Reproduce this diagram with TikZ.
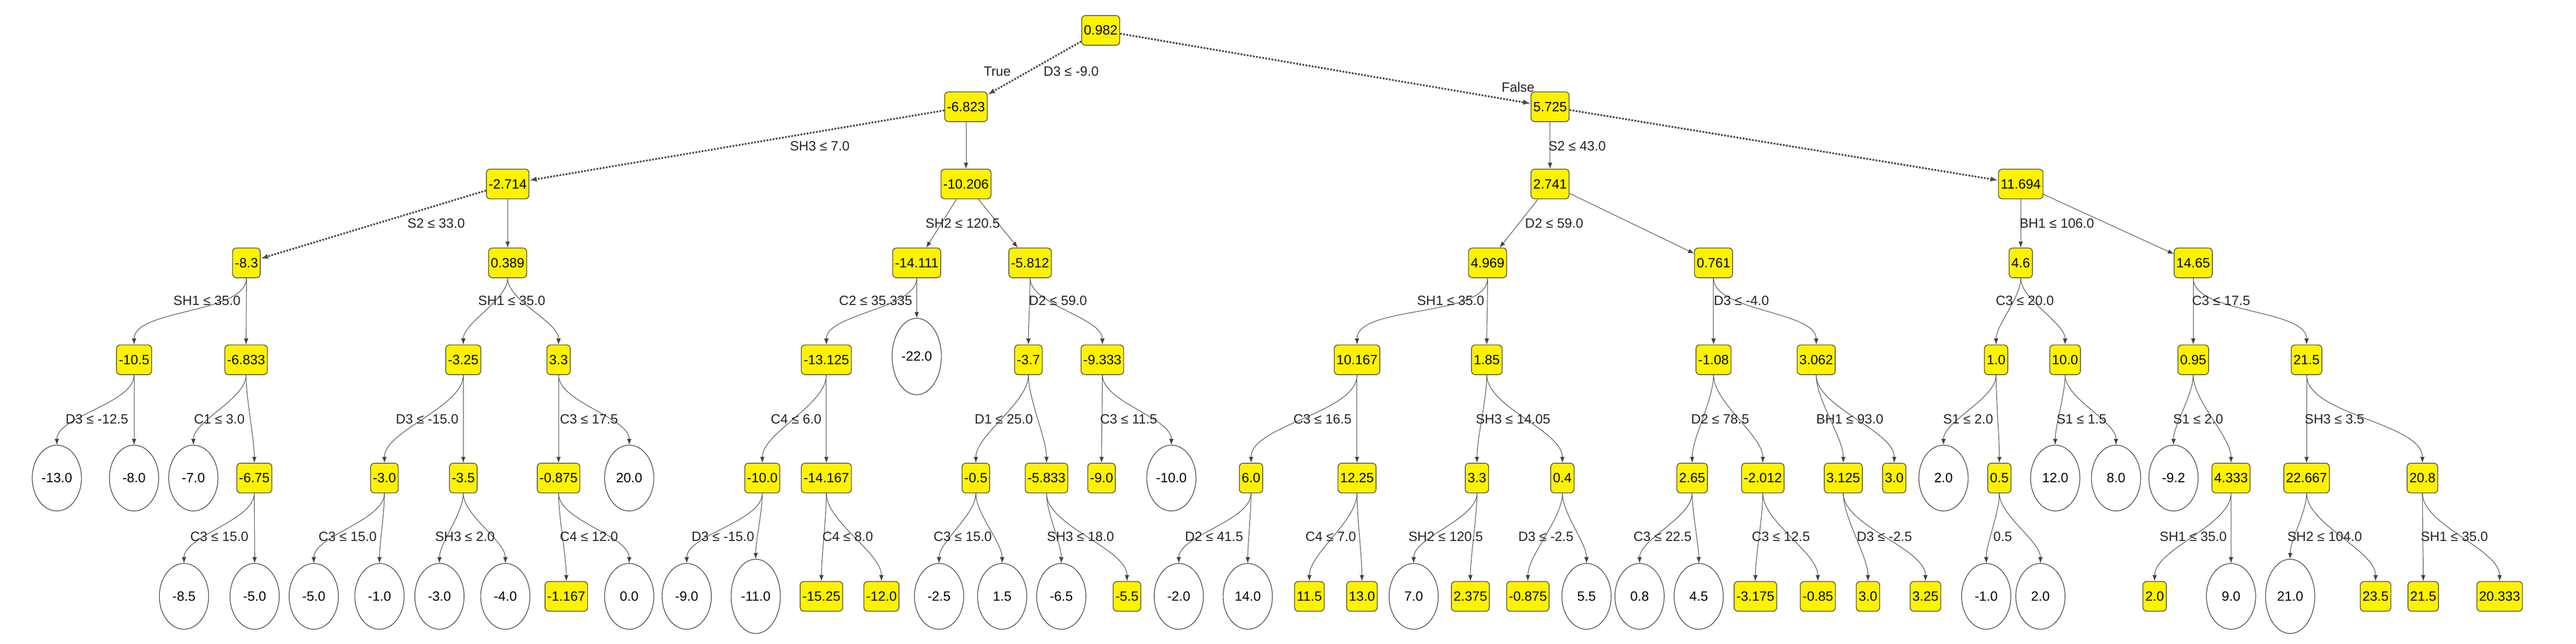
\documentclass[tikz,border=0pt]{standalone}
\usepackage{fontspec}
\setmainfont{Liberation Sans}
\usetikzlibrary{shapes.geometric,arrows.meta}
\newcommand\Yn[3]{\node[yn] (#1) at (#2) {#3};}
\newcommand\En[3]{\node[en] (#1) at (#2) {#3};}
\newcommand\Lb[2]{\node[lb] at (#1) {#2};}
\newcommand\Ed[2]{\draw[ed] (#1) to[out=-90,in=90,looseness=0.7] (#2);}
\newcommand\Es[2]{\draw[ed] (#1) -- (#2);}
\newcommand\Ep[2]{\draw[ep] (#1) -- (#2);}
\begin{document}
\begin{tikzpicture}[x={(0.03869cm,0)},y={(0,-0.03869cm)},
  every node/.style={font=\fontsize{9}{10}\selectfont},
  yn/.style={draw=gray!60!black,fill=yellow,rounded corners=2.5pt,minimum height=0.7cm,minimum width=0.55cm,inner sep=1.5pt,line width=0.5pt},
  en/.style={draw=black!80,ellipse,minimum width=1.16cm,minimum height=1.55cm,inner sep=0pt,line width=0.4pt},
  lb/.style={inner sep=1pt,text=black!85},
  ed/.style={draw=black!75,line width=0.35pt,-{Latex[length=4pt,width=3pt]}},
  ep/.style={draw=black!70,line width=1.2pt,dash pattern=on 1.2pt off 0.9pt,-{Latex[length=5pt,width=3.5pt]}}]
\useasboundingbox (0,0) rectangle (1568,392);
% level 0-3
\Yn{r}{670,18.5}{0.982}
\Yn{a}{588,65}{-6.823}
\Yn{b}{943.5,65}{5.725}
\Yn{aa}{309,112}{-2.714}
\Yn{ab}{588,112}{-10.206}
\Yn{ba}{943.5,112}{2.741}
\Yn{bb}{1230,112}{11.694}
\Yn{aaa}{150,160}{-8.3}
\Yn{aab}{309,160}{0.389}
\Yn{aba}{558,160}{-14.111}
\Yn{abb}{627,160}{-5.812}
\Yn{baa}{905.5,160}{4.969}
\Yn{bab}{1043,160}{0.761}
\Yn{bba}{1230,160}{4.6}
\Yn{bbb}{1335,160}{14.65}
% level 4
\Yn{c1}{81.6,219}{-10.5}
\Yn{c2}{149.8,219}{-6.833}
\Yn{c3}{282,219}{-3.25}
\Yn{c4}{340,219}{3.3}
\Yn{c5}{503,219}{-13.125}
\node[en,minimum height=1.8cm] (c6) at (558,217) {-22.0};
\Yn{c7}{626,219}{-3.7}
\Yn{c8}{671,219}{-9.333}
\Yn{c9}{826,219}{10.167}
\Yn{c10}{905,219}{1.85}
\Yn{c11}{1043,219}{-1.08}
\Yn{c12}{1105.5,219}{3.062}
\Yn{c13}{1215,219}{1.0}
\Yn{c14}{1257,219}{10.0}
\Yn{c15}{1335,219}{0.95}
\Yn{c16}{1404,219}{21.5}
% level 5
\En{d1}{34.6,291}{-13.0}
\En{d2}{81.6,291}{-8.0}
\En{d3}{117.7,291}{-7.0}
\Yn{d4}{154.8,291}{-6.75}
\Yn{d5}{234,291}{-3.0}
\Yn{d6}{282,291}{-3.5}
\Yn{d7}{340,291}{-0.875}
\En{d8}{383,291}{20.0}
\Yn{d9}{464,291}{-10.0}
\Yn{d10}{503,291}{-14.167}
\Yn{d11}{594,291}{-0.5}
\Yn{d12}{637,291}{-5.833}
\Yn{d13}{670.5,291}{-9.0}
\En{d14}{713,291}{-10.0}
\Yn{d15}{761.5,291}{6.0}
\Yn{d16}{826,291}{12.25}
\Yn{d17}{899,291}{3.3}
\Yn{d18}{951,291}{0.4}
\Yn{d19}{1030,291}{2.65}
\Yn{d20}{1073,291}{-2.012}
\Yn{d21}{1122,291}{3.125}
\Yn{d22}{1153,291}{3.0}
\En{d23}{1183,291}{2.0}
\Yn{d24}{1217,291}{0.5}
\En{d25}{1251,291}{12.0}
\En{d26}{1288,291}{8.0}
\En{d27}{1323,291}{-9.2}
\Yn{d28}{1358,291}{4.333}
\Yn{d29}{1404,291}{22.667}
\Yn{d30}{1474.5,291}{20.8}
% level 6
\En{e1}{112,363}{-8.5}
\En{e2}{155,363}{-5.0}
\En{e3}{191,363}{-5.0}
\En{e4}{231,363}{-1.0}
\En{e5}{267.5,363}{-3.0}
\En{e6}{307.6,363}{-4.0}
\Yn{e7}{344.7,363}{-1.167}
\En{e8}{383,363}{0.0}
\En{e9}{418,363}{-9.0}
\node[en,minimum height=1.75cm] (e10) at (460,363) {-11.0};
\Yn{e11}{500,363}{-15.25}
\Yn{e12}{536.5,363}{-12.0}
\En{e13}{571.6,363}{-2.5}
\En{e14}{610,363}{1.5}
\En{e15}{646,363}{-6.5}
\Yn{e16}{686,363}{-5.5}
\En{e17}{717.5,363}{-2.0}
\En{e18}{759.5,363}{14.0}
\Yn{e19}{797,363}{11.5}
\Yn{e20}{829,363}{13.0}
\En{e21}{860.5,363}{7.0}
\Yn{e22}{895,363}{2.375}
\Yn{e23}{930,363}{-0.875}
\En{e24}{965.7,363}{5.5}
\En{e25}{998,363}{0.8}
\En{e26}{1034,363}{4.5}
\Yn{e27}{1068.5,363}{-3.175}
\Yn{e28}{1106.5,363}{-0.85}
\Yn{e29}{1137,363}{3.0}
\Yn{e30}{1172,363}{3.25}
\En{e31}{1209,363}{-1.0}
\En{e32}{1242,363}{2.0}
\Yn{e33}{1311.5,363}{2.0}
\En{e34}{1358,363}{9.0}
\node[en,minimum height=1.75cm] (e35) at (1394,363) {21.0};
\Yn{e36}{1446,363}{23.5}
\Yn{e37}{1475,363}{21.5}
\Yn{e38}{1521.5,363}{20.333}
% edges
\Ep{r}{a}\Ep{r}{b}\Ep{a}{aa}\Es{a}{ab}\Es{b}{ba}\Ep{b}{bb}
\Ep{aa}{aaa}\Es{aa}{aab}\Es{ab}{aba}\Es{ab}{abb}\Es{ba}{baa}\Es{ba}{bab}\Es{bb}{bba}\Es{bb}{bbb}
\Ed{aaa}{c1}\Ed{aaa}{c2}\Ed{aab}{c3}\Ed{aab}{c4}\Ed{aba}{c5}\Ed{aba}{c6}\Ed{abb}{c7}\Ed{abb}{c8}
\Ed{baa}{c9}\Ed{baa}{c10}\Ed{bab}{c11}\Ed{bab}{c12}\Ed{bba}{c13}\Ed{bba}{c14}\Ed{bbb}{c15}\Ed{bbb}{c16}
\Ed{c1}{d1}\Ed{c1}{d2}\Ed{c2}{d3}\Ed{c2}{d4}\Ed{c3}{d5}\Ed{c3}{d6}\Ed{c4}{d7}\Ed{c4}{d8}
\Ed{c5}{d9}\Ed{c5}{d10}\Ed{c7}{d11}\Ed{c7}{d12}\Ed{c8}{d13}\Ed{c8}{d14}
\Ed{c9}{d15}\Ed{c9}{d16}\Ed{c10}{d17}\Ed{c10}{d18}\Ed{c11}{d19}\Ed{c11}{d20}\Ed{c12}{d21}\Ed{c12}{d22}
\Ed{c13}{d23}\Ed{c13}{d24}\Ed{c14}{d25}\Ed{c14}{d26}\Ed{c15}{d27}\Ed{c15}{d28}\Ed{c16}{d29}\Ed{c16}{d30}
\Ed{d4}{e1}\Ed{d4}{e2}\Ed{d5}{e3}\Ed{d5}{e4}\Ed{d6}{e5}\Ed{d6}{e6}\Ed{d7}{e7}\Ed{d7}{e8}
\Ed{d9}{e9}\Ed{d9}{e10}\Ed{d10}{e11}\Ed{d10}{e12}\Ed{d11}{e13}\Ed{d11}{e14}\Ed{d12}{e15}\Ed{d12}{e16}
\Ed{d15}{e17}\Ed{d15}{e18}\Ed{d16}{e19}\Ed{d16}{e20}\Ed{d17}{e21}\Ed{d17}{e22}\Ed{d18}{e23}\Ed{d18}{e24}
\Ed{d19}{e25}\Ed{d19}{e26}\Ed{d20}{e27}\Ed{d20}{e28}\Ed{d21}{e29}\Ed{d21}{e30}\Ed{d24}{e31}\Ed{d24}{e32}
\Ed{d28}{e33}\Ed{d28}{e34}\Ed{d29}{e35}\Ed{d29}{e36}\Ed{d30}{e37}\Ed{d30}{e38}
% labels
\Lb{607,43.5}{True}\Lb{652,43.5}{D3 ≤ -9.0}\Lb{924,53}{False}
\Lb{499,89}{SH3 ≤ 7.0}\Lb{960,89}{S2 ≤ 43.0}
\Lb{265.5,136}{S2 ≤ 33.0}\Lb{586,136}{SH2 ≤ 120.5}\Lb{946,136}{D2 ≤ 59.0}\Lb{1252,136}{BH1 ≤ 106.0}
\Lb{126,183}{SH1 ≤ 35.0}\Lb{311.5,183}{SH1 ≤ 35.0}\Lb{533,183}{C2 ≤ 35.335}\Lb{644,183}{D2 ≤ 59.0}
\Lb{883,183}{SH1 ≤ 35.0}\Lb{1060,183}{D3 ≤ -4.0}\Lb{1232.5,183}{C3 ≤ 20.0}\Lb{1352,183}{C3 ≤ 17.5}
\Lb{59,255}{D3 ≤ -12.5}\Lb{133.5,255}{C1 ≤ 3.0}\Lb{260,255}{D3 ≤ -15.0}\Lb{358.5,255}{C3 ≤ 17.5}
\Lb{484.6,255}{C4 ≤ 6.0}\Lb{611,255}{D1 ≤ 25.0}\Lb{687,255}{C3 ≤ 11.5}
\Lb{805,255}{C3 ≤ 16.5}\Lb{921,255}{SH3 ≤ 14.05}\Lb{1047,255}{D2 ≤ 78.5}\Lb{1126,255}{BH1 ≤ 93.0}
\Lb{1198,255}{S1 ≤ 2.0}\Lb{1267,255}{S1 ≤ 1.5}\Lb{1338,255}{S1 ≤ 2.0}\Lb{1421,255}{SH3 ≤ 3.5}
\Lb{133.5,326.5}{C3 ≤ 15.0}\Lb{211.6,326.5}{C3 ≤ 15.0}\Lb{283,326.5}{SH3 ≤ 2.0}\Lb{358.5,326.5}{C4 ≤ 12.0}
\Lb{440,326.5}{D3 ≤ -15.0}\Lb{516,326.5}{C4 ≤ 8.0}\Lb{586,326.5}{C3 ≤ 15.0}\Lb{657.7,326.5}{SH3 ≤ 18.0}
\Lb{739,326.5}{D2 ≤ 41.5}\Lb{810,326.5}{C4 ≤ 7.0}\Lb{880,326.5}{SH2 ≤ 120.5}\Lb{941,326.5}{D3 ≤ -2.5}
\Lb{1012,326.5}{C3 ≤ 22.5}\Lb{1084,326.5}{C3 ≤ 12.5}\Lb{1147,326.5}{D3 ≤ -2.5}\Lb{1219,326.5}{0.5}
\Lb{1335,326.5}{SH1 ≤ 35.0}\Lb{1415,326.5}{SH2 ≤ 104.0}\Lb{1494,326.5}{SH1 ≤ 35.0}
\end{tikzpicture}
\end{document}
